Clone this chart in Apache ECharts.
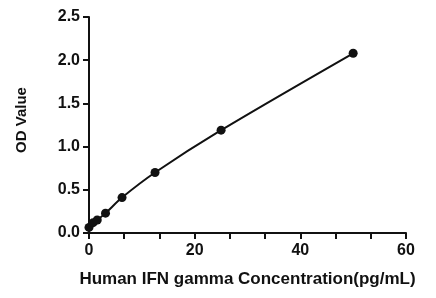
<!DOCTYPE html>
<html><head><meta charset="utf-8">
<script src="https://cdn.jsdelivr.net/npm/echarts@6/dist/echarts.min.js"></script>
<style>html,body{margin:0;padding:0;background:#fff}#c{width:436px;height:298px}</style>
</head><body><div id="c"></div>
<script>
const concentrations = [0, 0.78, 1.56, 3.125, 6.25, 12.5, 25, 50];
const odValues = [0.065, 0.12, 0.15, 0.23, 0.41, 0.70, 1.19, 2.08];
const xTicks = [0, 20, 40, 60];
const yTicks = [0.0, 0.5, 1.0, 1.5, 2.0, 2.5];

const pts = concentrations.map((c, i) => [c, odValues[i]]);
const font = '"Liberation Sans", Arial, sans-serif';
const chart = echarts.init(document.getElementById('c'), null, {renderer: 'canvas'});
chart.setOption({
  animation: false,
  grid: {left: 89, right: 30, top: 17, bottom: 65},
  xAxis: {
    type: 'value', min: xTicks[0], max: xTicks[xTicks.length - 1], interval: xTicks[1] - xTicks[0],
    name: 'Human IFN gamma Concentration(pg/mL)', nameLocation: 'middle', nameGap: 38,
    nameTextStyle: {fontFamily: font, fontWeight: 'bold', fontSize: 17, color: '#111'},
    axisLine: {onZero: false, lineStyle: {color: '#111', width: 2}},
    axisTick: {length: 6, lineStyle: {color: '#111', width: 2}},
    minorTick: {show: true, splitNumber: 3, length: 6, lineStyle: {color: '#111', width: 2}},
    axisLabel: {fontFamily: font, fontWeight: 'bold', fontSize: 16, color: '#111', margin: 10},
    splitLine: {show: false}
  },
  yAxis: {
    type: 'value', min: yTicks[0], max: yTicks[yTicks.length - 1], interval: yTicks[1] - yTicks[0],
    name: 'OD Value', nameLocation: 'middle', nameGap: 60,
    nameTextStyle: {fontFamily: font, fontWeight: 'bold', fontSize: 15, color: '#111', padding: [0, 0, 0, 10]},
    axisLine: {show: true, onZero: false, lineStyle: {color: '#111', width: 2}},
    axisTick: {show: true, length: 6, lineStyle: {color: '#111', width: 2}},
    axisLabel: {fontFamily: font, fontWeight: 'bold', fontSize: 16, color: '#111', margin: 9,
      formatter: v => v.toFixed(1)},
    splitLine: {show: false}
  },
  series: [{
    type: 'line', data: pts, smooth: 0.3,
    symbol: 'circle', symbolSize: 9,
    lineStyle: {color: '#111', width: 2},
    itemStyle: {color: '#111'}
  }]
});
</script></body></html>
